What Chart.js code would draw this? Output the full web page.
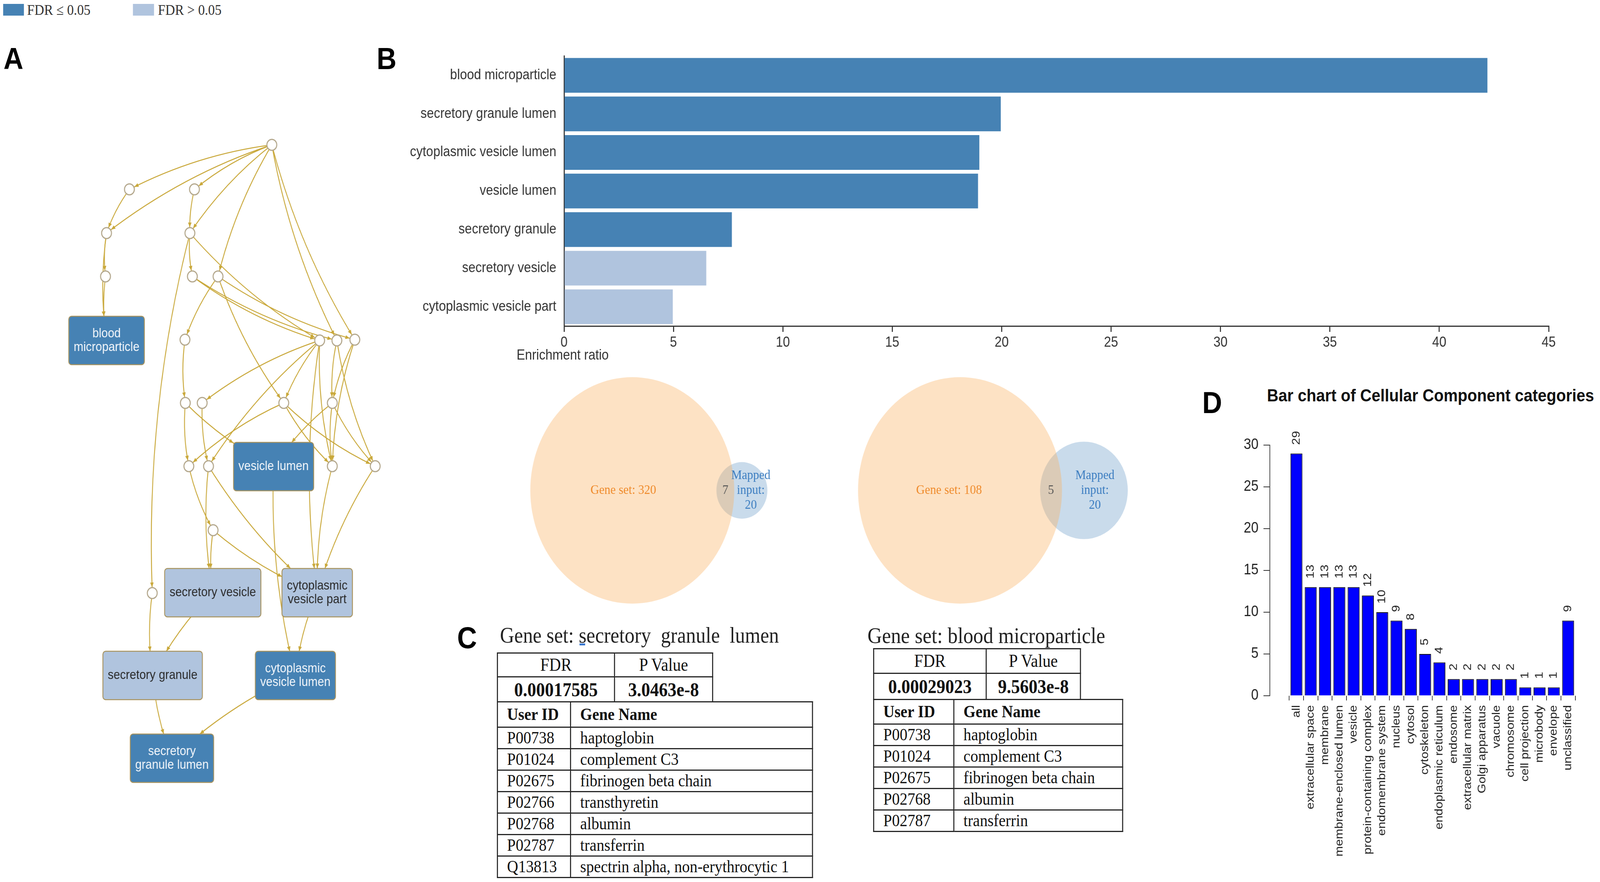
<!DOCTYPE html>
<html><head><meta charset="utf-8">
<script src="https://cdn.jsdelivr.net/npm/chart.js@4.4.1/dist/chart.umd.min.js"></script>
<style>
html,body{margin:0;padding:0;background:#fff;overflow:hidden;}
#page{position:absolute;left:0;top:0;width:4550px;height:2259px;transform-origin:0 0;overflow:hidden;background:#fff;}
.abs{position:absolute;white-space:pre;}
canvas{position:absolute;}
.plab{font-family:'Liberation Sans',Arial,sans-serif;font-weight:bold;font-size:78px;line-height:78px;color:#000;}
.serif{font-family:'Liberation Serif','Times New Roman',serif;}
.sans{font-family:'Liberation Sans',Arial,sans-serif;}
table{border-collapse:collapse;position:absolute;table-layout:fixed;font-family:'Liberation Serif','Times New Roman',serif;color:#111;}
td{border:3px solid #262626;padding:0;line-height:1;vertical-align:middle;overflow:hidden;white-space:nowrap;}
td.c{text-align:center;}
td.l{text-align:left;padding-left:26px;}
</style></head><body>
<div id="page">
<!-- legend -->
<div class="abs" style="left:9px;top:10px;width:59px;height:30px;background:#4682b4"></div>
<div class="abs serif" style="left:77px;top:6px;font-size:38px;line-height:38px;color:#333">FDR ≤ 0.05</div>
<div class="abs" style="left:378px;top:10px;width:60px;height:30px;background:#b0c4de"></div>
<div class="abs serif" style="left:449px;top:6px;font-size:38px;line-height:38px;color:#333">FDR &gt; 0.05</div>

<!-- panel letters -->
<div class="abs plab" style="left:10px;top:111px">A</div>
<div class="abs plab" style="left:1071px;top:111px">B</div>
<div class="abs plab" style="left:1300px;top:1594px">C</div>
<div class="abs plab" style="left:3419px;top:992px">D</div>

<canvas id="chartA" width="1150" height="1800" style="left:0px;top:300px"></canvas>
<canvas id="chartB" width="3360" height="860" style="left:1100px;top:100px"></canvas>
<div class="abs sans" style="left:1469px;top:891px;font-size:36px;line-height:36px;color:#333">Enrichment ratio</div>
<canvas id="venn1" width="800" height="640" style="left:1450px;top:940px"></canvas>
<canvas id="venn2" width="850" height="640" style="left:2400px;top:940px"></canvas>

<div class="abs serif" style="left:1422px;top:1599px;font-size:56px;line-height:56px;color:#222">Gene set: secretory  granule  lumen</div>
<div class="abs" style="left:1648px;top:1648px;width:16px;height:5px;background:#3a78d0"></div>
<div class="abs serif" style="left:2467px;top:1599px;font-size:57px;line-height:57px;color:#222">Gene set: blood microparticle</div>
<div id="tables"></div>

<div class="abs sans" style="left:3568px;top:990px;width:1000px;text-align:center;font-size:45px;line-height:45px;font-weight:bold;color:#111">Bar chart of Cellular Component categories</div>
<canvas id="chartD" width="1170" height="1179" style="left:3380px;top:1080px"></canvas>
</div>

<script>
// fit the 4550x2259 layout into whatever viewport we get
(function(){
  const p=document.getElementById('page');
  const sx=(window.innerWidth||4550)/4550, sy=(window.innerHeight||2259)/2259;
  p.style.transform=`scale(${sx},${sy})`;
})();

// ---------------- DATA ----------------
// Panel B: enrichment ratios
const bCategories = ['blood microparticle','secretory granule lumen','cytoplasmic vesicle lumen','vesicle lumen','secretory granule','secretory vesicle','cytoplasmic vesicle part'];
const bEnrichment = [42.2, 19.96, 18.98, 18.92, 7.67, 6.5, 4.97];
const bFdrSignificant = [true, true, true, true, true, false, false];

// Panel D: cellular component counts
const dCategories = ['all','extracellular space','membrane','membrane-enclosed lumen','vesicle','protein-containing complex','endomembrane system','nucleus','cytosol','cytoskeleton','endoplasmic reticulum','endosome','extracellular matrix','Golgi apparatus','vacuole','chromosome','cell projection','microbody','envelope','unclassified'];
const dCounts = [29,13,13,13,13,12,10,9,8,5,4,2,2,2,2,2,1,1,1,9];

// Venn diagrams
const vennGeneSet = [320, 108];
const vennMapped = [20, 20];
const vennOverlap = [7, 5];

// Panel C tables
const tblLeftFdr = '0.00017585', tblLeftP = '3.0463e-8';
const tblLeftIds = ['P00738','P01024','P02675','P02766','P02768','P02787','Q13813'];
const tblLeftNames = ['haptoglobin','complement C3','fibrinogen beta chain','transthyretin','albumin','transferrin','spectrin alpha, non-erythrocytic 1'];
const tblRightFdr = '0.00029023', tblRightP = '9.5603e-8';
const tblRightIds = ['P00738','P01024','P02675','P02768','P02787'];
const tblRightNames = ['haptoglobin','complement C3','fibrinogen beta chain','albumin','transferrin'];

// Panel A: GO DAG (layout coordinates of nodes)
const goCircleX = [773,368,553,303,540,300,547,620,526,909,958,1009,527,575,807,945,537,593,945,1067,606,433];
const goCircleY = [371,485,485,597,597,708,708,708,870,872,872,870,1032,1032,1032,1032,1194,1194,1194,1194,1358,1519];
const goTermNames = ['blood microparticle','vesicle lumen','secretory vesicle','cytoplasmic vesicle part','secretory granule','cytoplasmic vesicle lumen','secretory granule lumen'];
const goTermX = [303,778,605,902,434,840,489];
const goTermY = [872,1195,1518,1518,1730,1730,1942];
const goTermSignificant = [true,true,false,false,false,true,true];
const goEdgeFrom = ['c0','c0','c0','c0','c0','c0','c0','c1','c3','c3','c5','c2','c4','c4','c4','c6','c6','c7','c7','c7','c8','c9','c9','c9','c9','c9','c10','c11','c11','c10','c12','c12','c13','c14','c14','c14','c15','c15','c15','c16','c17','c17','c20','c20','c18','c19','vesicle lumen','cytoplasmic vesicle part','c21','secretory vesicle','secretory granule','cytoplasmic vesicle lumen'];
const goEdgeTo = ['c1','c2','c3','c4','c7','c10','c11','c3','c5','blood microparticle','blood microparticle','c4','c6','c9','c21','c9','c10','c11','c8','c14','c12','c13','c14','c17','c18','cytoplasmic vesicle part','c15','c15','c18','c19','c16','vesicle lumen','c17','c16','c18','c19','vesicle lumen','c19','c18','c20','secretory vesicle','cytoplasmic vesicle part','secretory vesicle','cytoplasmic vesicle part','cytoplasmic vesicle part','cytoplasmic vesicle part','cytoplasmic vesicle lumen','cytoplasmic vesicle lumen','secretory granule','secretory granule','secretory granule lumen','secretory granule lumen'];

// ---------------- STYLE ----------------
const SIG = '#4682b4', NONSIG = '#b0c4de';
const SANS = "'Liberation Sans', Arial, sans-serif";
const SERIF = "'Liberation Serif', 'Times New Roman', serif";
const NODE_R = 14, BOX_H = 124;
Chart.defaults.font.family = SANS;

// ---------------- PANEL A ----------------
function goNodePos(id){
  if (/^c\d+$/.test(id)) { const i=+id.slice(1); return [goCircleX[i], goCircleY[i]]; }
  const j = goTermNames.indexOf(id); return [goTermX[j], goTermY[j]];
}
function boxLines(ctx, name){
  if (ctx.measureText(name).width > 268) { const k=name.indexOf(' '); return [name.slice(0,k), name.slice(k+1)]; }
  return [name];
}
function boxWidth(ctx, name){
  return Math.max(200, Math.max(...boxLines(ctx,name).map(l=>ctx.measureText(l).width))+28);
}
const goEdgePlugin = {
  id:'goEdges',
  beforeDatasetsDraw(chart){
    const {ctx, scales:{x,y}} = chart;
    ctx.save(); ctx.font = '33px ' + SANS;
    ctx.strokeStyle='#c9a83a'; ctx.fillStyle='#c9a83a'; ctx.lineWidth=2.5;
    goEdgeFrom.forEach((f,i)=>{
      const tid=goEdgeTo[i];
      const a=goNodePos(f), b=goNodePos(tid);
      const x1=x.getPixelForValue(a[0]), y1=y.getPixelForValue(a[1]);
      const x2=x.getPixelForValue(b[0]), y2=y.getPixelForValue(b[1]);
      const dx=x2-x1, dy=y2-y1;
      const cx=(x1+x2)/2 - dy*0.08, cy=(y1+y2)/2 + dx*0.08;
      ctx.beginPath(); ctx.moveTo(x1,y1); ctx.quadraticCurveTo(cx,cy,x2,y2); ctx.stroke();
      // arrow head where the curve enters the target node
      const isBox = !/^c\d+$/.test(tid);
      const hw = isBox ? boxWidth(ctx,tid)/2 : 0;
      const inside=(px,py)=> isBox ? (Math.abs(px-x2)<=hw && Math.abs(py-y2)<=BOX_H/2) : Math.hypot(px-x2,py-y2)<=NODE_R+1;
      const pt=t=>[(1-t)*(1-t)*x1+2*(1-t)*t*cx+t*t*x2, (1-t)*(1-t)*y1+2*(1-t)*t*cy+t*t*y2];
      let t=1; while(t>0 && inside(...pt(t))) t-=0.002;
      const [ex,ey]=pt(t), [px0,py0]=pt(Math.max(0,t-0.02));
      const ang=Math.atan2(ey-py0, ex-px0), L=12, W=5;
      ctx.beginPath(); ctx.moveTo(ex,ey);
      ctx.lineTo(ex-L*Math.cos(ang)+W*Math.sin(ang), ey-L*Math.sin(ang)-W*Math.cos(ang));
      ctx.lineTo(ex-L*Math.cos(ang)-W*Math.sin(ang), ey-L*Math.sin(ang)+W*Math.cos(ang));
      ctx.closePath(); ctx.fill();
    });
    ctx.restore();
  },
  afterDatasetsDraw(chart){
    const {ctx, scales:{x,y}} = chart;
    ctx.save();
    ctx.font = '33px ' + SANS;
    goTermNames.forEach((name,i)=>{
      const lines=boxLines(ctx,name);
      const w=boxWidth(ctx,name), h=BOX_H;
      const px=x.getPixelForValue(goTermX[i]), py=y.getPixelForValue(goTermY[i]);
      ctx.beginPath(); ctx.roundRect(px-w/2, py-h/2, w, h, 8);
      ctx.fillStyle = goTermSignificant[i]?SIG:NONSIG; ctx.fill();
      ctx.lineWidth=2.5; ctx.strokeStyle='#a8935e'; ctx.stroke();
      ctx.fillStyle = goTermSignificant[i]?'#f4f7fb':'#2a2a2a';
      ctx.textAlign='center'; ctx.textBaseline='middle';
      const lh=35;
      lines.forEach((l,k)=>ctx.fillText(l, px, py + (k-(lines.length-1)/2)*lh));
    });
    ctx.restore();
  }
};
new Chart(document.getElementById('chartA'), {
  type:'scatter',
  data:{datasets:[{data:goCircleX.map((v,i)=>({x:v,y:goCircleY[i]})), pointRadius:NODE_R, pointBackgroundColor:'#fff', pointBorderColor:'#b3a78c', pointBorderWidth:3, clip:false}]},
  options:{responsive:false, animation:false, devicePixelRatio:1, layout:{padding:0, autoPadding:false},
    plugins:{legend:{display:false}, tooltip:{enabled:false}},
    scales:{x:{type:'linear',min:0,max:1150,display:false}, y:{type:'linear',min:300,max:2100,reverse:true,display:false}}},
  plugins:[goEdgePlugin]
});

// ---------------- PANEL B ----------------
new Chart(document.getElementById('chartB'), {
  type:'bar',
  data:{labels:bCategories, datasets:[{data:bEnrichment, backgroundColor:bFdrSignificant.map(s=>s?SIG:NONSIG), barPercentage:0.9, categoryPercentage:1}]},
  options:{indexAxis:'y', responsive:false, animation:false, devicePixelRatio:1,
    layout:{padding:{top:25,right:56,left:0,bottom:0}, autoPadding:false},
    plugins:{legend:{display:false}, tooltip:{enabled:false}},
    scales:{
      x:{type:'linear', min:0, max:45, ticks:{stepSize:5, font:{size:36}, color:'#333', padding:6},
         grid:{drawOnChartArea:false, drawTicks:true, tickLength:15, color:'#333', lineWidth:3},
         border:{display:true, color:'#333', width:3}, afterFit(s){s.height=125;}},
      y:{ticks:{font:{size:36}, color:'#333', padding:22}, grid:{display:false, drawTicks:false},
         border:{display:true, color:'#333', width:3}, afterFit(s){s.width=504;}}
    }}
});

// ---------------- VENN ----------------
const VENN_R = 290;
function venn(canvasId, k, bigCx, cy){
  const R=VENN_R, r=R*Math.sqrt(vennMapped[k]/vennGeneSet[k]);
  const sx = bigCx + R + r - 2*r*vennOverlap[k]/vennMapped[k];
  const textPlugin = {
    id:'vennText'+k,
    afterDatasetsDraw(chart){
      const {ctx, scales:{x,y}} = chart;
      const bx=x.getPixelForValue(bigCx), by=y.getPixelForValue(cy), smx=x.getPixelForValue(sx);
      const bigL=bx-R, bigRt=bx+R, smL=smx-r, smR=smx+r;
      ctx.save(); ctx.font='34px '+SERIF; ctx.textAlign='center'; ctx.textBaseline='middle';
      ctx.fillStyle='#ef8a2a'; ctx.fillText('Gene set: '+vennGeneSet[k], (bigL+smL)/2, by);
      ctx.fillStyle='#555'; ctx.fillText(String(vennOverlap[k]), (smL+bigRt)/2, by);
      ctx.fillStyle='#3a7cc0';
      const mx=(bigRt+smR)/2;
      ctx.fillText('Mapped', mx, by-38); ctx.fillText('input:', mx, by); ctx.fillText(String(vennMapped[k]), mx, by+38);
      ctx.restore();
    }
  };
  const cv=document.getElementById(canvasId);
  new Chart(cv, {
    type:'bubble',
    data:{datasets:[
      {data:[{x:bigCx,y:cy,r:R}], backgroundColor:'rgba(251,178,100,0.38)', borderWidth:0, clip:false},
      {data:[{x:sx,y:cy,r:r}], backgroundColor:'rgba(120,165,205,0.4)', borderWidth:0, clip:false}
    ]},
    options:{responsive:false, animation:false, devicePixelRatio:1, layout:{padding:0, autoPadding:false},
      plugins:{legend:{display:false}, tooltip:{enabled:false}},
      scales:{x:{type:'linear',min:0,max:cv.width,display:false}, y:{type:'linear',min:0,max:cv.height,reverse:true,display:false}}},
    plugins:[textPlugin]
  });
}
venn('venn1', 0, 348, 316);
venn('venn2', 1, 330, 316);

// ---------------- TABLES ----------------
function pTable(left, top, width, col1, h1, h2, fdr, p){
  return `<table style="left:${left}px;top:${top}px;width:${width}px"><colgroup><col style="width:${col1}px"><col></colgroup>
  <tr style="height:${h1}px"><td class="c" style="font-size:46px">FDR</td><td class="c" style="font-size:46px">P Value</td></tr>
  <tr style="height:${h2}px"><td class="c" style="font-size:50px;font-weight:bold">${fdr}</td><td class="c" style="font-size:50px;font-weight:bold">${p}</td></tr></table>`;
}
function gTable(left, top, width, col1, hh, rh, ids, names){
  let s=`<table style="left:${left}px;top:${top}px;width:${width}px"><colgroup><col style="width:${col1}px"><col></colgroup>
  <tr style="height:${hh}px"><td class="l" style="font-size:44px;font-weight:bold">User ID</td><td class="l" style="font-size:44px;font-weight:bold">Gene Name</td></tr>`;
  ids.forEach((id,i)=>{ s+=`<tr style="height:${rh}px"><td class="l" style="font-size:44px">${id}</td><td class="l" style="font-size:44px">${names[i]}</td></tr>`; });
  return s+'</table>';
}
document.getElementById('tables').innerHTML =
  pTable(1413,1671,615,333,61,64,tblLeftFdr,tblLeftP) +
  gTable(1413,1796,899,208,65,55,tblLeftIds,tblLeftNames) +
  pTable(2483,1660,591,320,63,67,tblRightFdr,tblRightP) +
  gTable(2483,1790,711,228,63,55,tblRightIds,tblRightNames);

// ---------------- PANEL D ----------------
const dLabelPlugin = {
  id:'dLabels',
  afterDatasetsDraw(chart){
    const {ctx}=chart; const meta=chart.getDatasetMeta(0);
    ctx.save(); ctx.font='32px '+SANS; ctx.fillStyle='#222'; ctx.textAlign='left'; ctx.textBaseline='middle';
    meta.data.forEach((bar,i)=>{ ctx.save(); ctx.translate(bar.x, bar.y-22); ctx.rotate(-Math.PI/2); ctx.fillText(String(dCounts[i]),0,0); ctx.restore(); });
    ctx.restore();
  }
};
new Chart(document.getElementById('chartD'), {
  type:'bar',
  data:{datasets:[{data:dCategories.map((c,i)=>({x:i,y:dCounts[i]})), backgroundColor:'#0000ff', borderColor:'#111', borderWidth:2, barPercentage:1/1.2, categoryPercentage:1}]},
  options:{responsive:false, animation:false, devicePixelRatio:1,
    layout:{padding:{top:60,right:15,left:0,bottom:0}, autoPadding:false},
    plugins:{legend:{display:false}, tooltip:{enabled:false}},
    scales:{
      x:{type:'linear', min:-1.293, max:20.293,
         afterBuildTicks(s){ s.ticks = dCategories.map((c,i)=>({value:i})); },
         ticks:{autoSkip:false, minRotation:90, maxRotation:90, callback:(v)=>dCategories[v], font:{size:32}, color:'#222', padding:12},
         grid:{drawOnChartArea:false, tickLength:12, color:'#333', lineWidth:2},
         border:{display:false}, afterFit(s){s.height=477;}},
      y:{min:0, max:30, ticks:{stepSize:5, font:{size:38}, color:'#222', padding:14},
         grid:{drawOnChartArea:false, tickLength:18, color:'#333', lineWidth:2},
         border:{display:true, color:'#333', width:2}, afterFit(s){s.width=231;}}
    }},
  plugins:[dLabelPlugin]
});
</script>
</body></html>
